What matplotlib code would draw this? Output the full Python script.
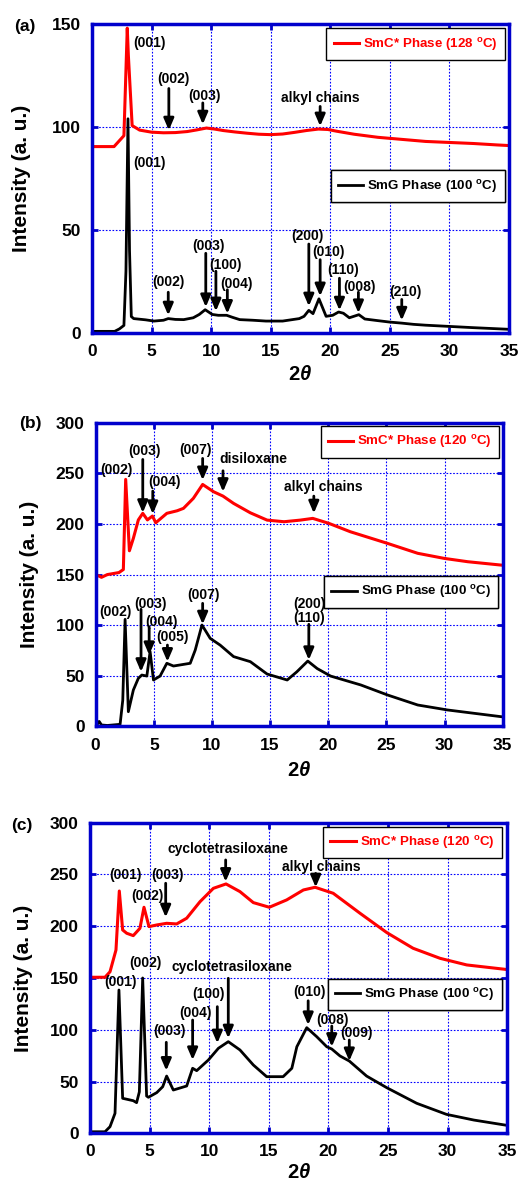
import numpy as np
import matplotlib
matplotlib.use("Agg")
import matplotlib.pyplot as plt

plt.rcParams['font.family'] = ['Liberation Sans', 'DejaVu Sans']
plt.rcParams['font.weight'] = 'bold'
plt.rcParams['mathtext.fontset'] = 'custom'
plt.rcParams['mathtext.rm'] = 'Liberation Sans:bold'
plt.rcParams['mathtext.bf'] = 'Liberation Sans:bold'
plt.rcParams['mathtext.it'] = 'Liberation Sans:italic:bold'

BLUE = '#0000CC'

# ---------------- panel (a) ----------------
a_red_x = [0.1, 1.85, 2.68, 2.96, 3.05, 3.37, 4, 5, 6, 7, 8, 8.8, 9.6, 10.3, 11, 12, 13, 14,
           15, 16, 17, 18, 19, 19.8, 20.5, 22, 24, 25, 26, 28, 30, 32, 34, 35]
a_red_y = [90.5, 90.5, 95.8, 148, 135, 100.7, 98.5, 97.5, 97.2, 97.3, 97.8, 98.6, 99.5, 99, 98.3,
           97.6, 97, 96.5, 96.3, 96.6, 97.4, 98.3, 99, 98.8, 98, 96.5, 95, 94.5, 94, 93, 92.5,
           92, 91.3, 91]
a_blk_x = [0, 1.9, 2.3, 2.68, 2.85, 3.02, 3.15, 3.3, 3.5, 4.5, 5.2, 6, 6.4, 7, 7.7, 8.5, 9.0,
           9.5, 10.1, 10.6, 11.3, 11.8, 12.4, 13.5, 14.6, 16, 17.4, 17.8, 18.2, 18.55, 19.05,
           19.65, 20.2, 20.7, 21.1, 21.6, 22.4, 22.9, 24, 25, 26, 27, 28, 30, 32, 35]
a_blk_y = [0.8, 0.8, 2, 3.7, 30, 104, 40, 8, 7, 6.4, 5.8, 6.2, 7, 6.6, 6.5, 7.4, 9, 11.3, 9,
           8.6, 8.6, 7.6, 6.5, 6.2, 5.8, 5.8, 7, 8.1, 11, 9.4, 16.6, 8.1, 8.6, 10.2, 9.6, 7.4,
           8.9, 6.8, 6, 5.3, 4.8, 4.2, 3.8, 3.2, 2.6, 1.8]
# labels: (text, x, y)
a_labels = [("(001)", 4.82, 140.7), ("(002)", 6.84, 123.4), ("(003)", 9.42, 115.1),
            ("alkyl chains", 19.14, 114.1), ("(001)", 4.86, 82.7), ("(002)", 6.4, 24.9),
            ("(003)", 9.78, 42.2), ("(100)", 11.24, 33.1), ("(004)", 12.13, 23.9),
            ("(200)", 18.12, 47.0), ("(010)", 19.86, 39.4), ("(110)", 21.06, 30.6),
            ("(008)", 22.49, 22.4), ("(210)", 26.28, 20.1)]
# arrows: (x, tail y, tip y)
a_arrows = [(6.45, 118.7, 98.4), (9.3, 111.7, 101.3), (19.15, 110, 100.4),
            (6.4, 19.8, 8.6), (9.55, 38.7, 12.6), (10.4, 30, 10.6), (11.36, 21, 9.4),
            (18.2, 43.2, 13), (19.15, 35.6, 17.9), (20.77, 26.6, 11), (22.36, 19.8, 9.7),
            (26.0, 16.3, 6.1)]

# ---------------- panel (b) ----------------
b_red_x = [0.09, 0.5, 1.0, 1.5, 2.0, 2.38, 2.58, 2.9, 3.24, 3.67, 4.05, 4.45, 4.88, 5.17, 6.12,
           7.0, 7.55, 8.4, 9.2, 10.14, 10.95, 11.86, 13.3, 14.74, 16.2, 17.6, 18.67, 20.05,
           21.9, 25.1, 27.7, 29.97, 32, 34.85]
b_red_y = [149.6, 147.3, 150, 151, 152, 155, 244, 173.5, 185.8, 204, 210.5, 204, 207.8, 201.2,
           210.5, 213, 215.4, 225.3, 239, 231.8, 227.5, 220.3, 211, 203.8, 202.2, 203.8, 205.5,
           200.6, 192.3, 180.8, 171, 166, 162.7, 159.4]
b_blk_x = [0.1, 0.3, 0.5, 1.0, 2.1, 2.33, 2.53, 2.81, 3.24, 3.67, 3.97, 4.4, 4.68, 4.97, 5.54,
           6.12, 6.69, 8.13, 8.56, 9.14, 9.85, 10.7, 11.86, 13.3, 14.74, 16.47, 17.3, 18.24,
           19.05, 20.2, 22.8, 25.1, 27.7, 30.26, 32.55, 34.85]
b_blk_y = [1.5, 5, 1.5, 1, 2.1, 26, 105.8, 14.6, 36, 47.6, 50.8, 49.8, 74, 45.9, 49.8, 62.4,
           59.7, 62.4, 75.4, 100.2, 87, 80.4, 69, 64, 51.8, 45.9, 54, 64.6, 57.2, 49.8, 41,
           31.1, 21.2, 16.3, 13, 9.7]
b_labels = [("(002)", 1.82, 252.9), ("(003)", 4.24, 271.8), ("(004)", 5.96, 241.4),
            ("(007)", 8.55, 272.6), ("disiloxane", 13.52, 263.9), ("alkyl chains", 19.54, 236.7),
            ("(002)", 1.66, 112.8), ("(003)", 4.68, 121.3), ("(004)", 5.62, 103.2),
            ("(005)", 6.62, 88.4), ("(007)", 9.28, 129.8), ("(200)", 18.36, 121.3),
            ("(110)", 18.36, 107.6)]
b_arrows = [(4.05, 263.7, 211), (4.91, 232.5, 209.8), (9.2, 264.7, 243.3), (10.95, 252.5, 231.8),
            (18.76, 227.5, 210.5), (3.9, 115.7, 54), (4.6, 98.5, 70.6), (6.17, 80.4, 64),
            (9.2, 121.6, 100.9), (18.33, 100.9, 65.7)]

# ---------------- panel (c) ----------------
c_red_x = [0.14, 1.26, 1.68, 2.18, 2.46, 2.74, 3.08, 3.63, 4.19, 4.53, 4.95, 5.6, 6.43, 7.27,
           8.11, 9.23, 10.35, 11.41, 12.58, 13.7, 15.04, 16.5, 17.9, 18.88, 20.4, 22.65, 24.9,
           27.1, 29.36, 31.6, 34.8]
c_red_y = [150.7, 150.7, 156, 177, 234, 196.4, 193.2, 190.9, 198, 218.3, 199.6, 201.2, 202.8,
           202.2, 207.7, 223.7, 236.6, 240.8, 233.4, 222.8, 218.3, 225.4, 235, 237.6, 231.8,
           212.5, 193.8, 178.7, 169, 162.6, 158.4]
c_blk_x = [0.14, 1.26, 1.68, 2.1, 2.43, 2.74, 3.63, 3.91, 4.14, 4.42, 4.75, 4.9, 5.6, 6.1, 6.43,
           6.99, 8.11, 8.61, 8.95, 9.93, 10.77, 11.6, 12.58, 13.7, 14.82, 16.2, 16.93, 17.35,
           18.18, 19.02, 19.86, 20.28, 20.97, 21.75, 23.2, 24.9, 27.4, 29.9, 32.2, 34.8]
c_blk_y = [1.5, 1.5, 6.4, 19.3, 138.4, 33.8, 31.5, 29.6, 40, 150, 36, 34.8, 39.3, 45, 55.3,
           41.8, 45.7, 62.8, 60.5, 70.8, 82.1, 88.5, 80.5, 66, 54.7, 54.7, 62.8, 83.6, 102,
           93.3, 83.6, 81.4, 74.7, 69.8, 55.3, 44, 29, 18.3, 12.8, 8]
c_labels = [("(001)", 2.94, 249), ("(002)", 4.8, 228.9), ("(003)", 6.5, 249),
            ("cyclotetrasiloxane", 11.56, 274.5), ("alkyl chains", 19.37, 257),
            ("(002)", 4.64, 164.5), ("(001)", 2.53, 146.6), ("cyclotetrasiloxane", 11.93, 160.2),
            ("(100)", 9.93, 134.4), ("(010)", 18.39, 136), ("(004)", 8.81, 116.2),
            ("(003)", 6.7, 98.6), ("(008)", 20.34, 109.7), ("(009)", 22.33, 97)]
c_arrows = [(6.35, 241.5, 208.6), (11.38, 264, 243), (18.93, 251, 237.6),
            (11.6, 149.7, 91.8), (10.68, 122.3, 87), (8.61, 109.4, 70.8), (6.4, 87.9, 60.5),
            (18.3, 128, 104.6), (20.28, 103.6, 83.6), (21.75, 90.1, 69.8)]

panels = [
    dict(tag="(a)", rect=[0.1776, 0.7185, 0.805, 0.2612], ymax=150, yticks=[0, 50, 100, 150],
         rx=a_red_x, ry=a_red_y, kx=a_blk_x, ky=a_blk_y, labels=a_labels, arrows=a_arrows,
         rlab='SmC* Phase (128 $^{\\rm o}$C)', klab='SmG Phase (100 $^{\\rm o}$C)',
         rleg=(0.990, 0.986), kleg=(0.990, 0.527), tagpos=(0.047, 0.978),
         ylc=-0.147, xlc=-0.105),
    dict(tag="(b)", rect=[0.1847, 0.3859, 0.7857, 0.2568], ymax=300,
         yticks=[0, 50, 100, 150, 200, 250, 300],
         rx=b_red_x, ry=b_red_y, kx=b_blk_x, ky=b_blk_y, labels=b_labels, arrows=b_arrows,
         rlab='SmC* Phase (120 $^{\\rm o}$C)', klab='SmG Phase (100 $^{\\rm o}$C)',
         rleg=(0.9916, 0.989), kleg=(0.989, 0.495), tagpos=(0.058, 0.6416),
         ylc=-0.139, xlc=-0.112),
    dict(tag="(c)", rect=[0.1737, 0.0420, 0.8056, 0.2626], ymax=300,
         yticks=[0, 50, 100, 150, 200, 250, 300],
         rx=c_red_x, ry=c_red_y, kx=c_blk_x, ky=c_blk_y, labels=c_labels, arrows=c_arrows,
         rlab='SmC* Phase (120 $^{\\rm o}$C)', klab='SmG Phase (100 $^{\\rm o}$C)',
         rleg=(0.9866, 0.987), kleg=(0.9866, 0.498), tagpos=(0.0425, 0.3026),
         ylc=-0.136, xlc=-0.097),
]

fig = plt.figure(figsize=(5.18, 11.83), dpi=100)

for p in panels:
    ax = fig.add_axes(p['rect'])
    ax.set_xlim(0, 35)
    ax.set_ylim(0, p['ymax'])
    ax.set_xticks(np.arange(0, 36, 5))
    ax.set_yticks(p['yticks'])
    ax.set_axisbelow(True)
    ax.grid(True, color='blue', linestyle=(0, (1.5, 1.5)), linewidth=0.8)
    for s in ax.spines.values():
        s.set_color(BLUE)
        s.set_linewidth(2.5)
    ax.tick_params(direction='in', length=4.5, width=2, color=BLUE, labelcolor='black',
                   labelsize=12.5, pad=8, top=True, right=True)
    for t in ax.get_xticklabels() + ax.get_yticklabels():
        t.set_fontweight('bold')

    lr, = ax.plot(p['rx'], p['ry'], color='red', lw=2.2, label=p['rlab'])
    lk, = ax.plot(p['kx'], p['ky'], color='black', lw=2.0, label=p['klab'])

    for txt, x, y in p['labels']:
        ax.text(x, y, txt, ha='center', va='center', fontsize=10, fontweight='bold')
    for x, yt, yh in p['arrows']:
        ax.annotate('', xy=(x, yh), xytext=(x, yt),
                    arrowprops=dict(arrowstyle='-|>,head_length=0.7,head_width=0.3',
                                    color='black', lw=2, shrinkA=0, shrinkB=0,
                                    mutation_scale=10))

    legs = []
    for h, anchor, col in ((lr, p['rleg'], 'red'), (lk, p['kleg'], 'black')):
        lg = ax.legend(handles=[h], loc='upper right', bbox_to_anchor=anchor,
                       bbox_transform=ax.transAxes, borderaxespad=0, fancybox=False,
                       edgecolor='black', framealpha=1, fontsize=9.6, labelcolor=col,
                       handlelength=1.9, handletextpad=0.3, borderpad=0.55)
        lg.get_frame().set_linewidth(1.0)
        for t in lg.get_texts():
            t.set_fontweight('bold')
        ax.add_artist(lg)

    ax.set_ylabel('Intensity (a. u.)', fontsize=15, fontweight='bold')
    ax.yaxis.set_label_coords(p['ylc'], 0.5)
    ax.set_xlabel('2$\\theta$', fontsize=14.5, fontweight='bold')
    ax.xaxis.set_label_coords(0.5, p['xlc'])

    fig.text(p['tagpos'][0], p['tagpos'][1], p['tag'], ha='center', va='center',
             fontsize=12.5, fontweight='bold')

fig.savefig('out.png', dpi=100)
